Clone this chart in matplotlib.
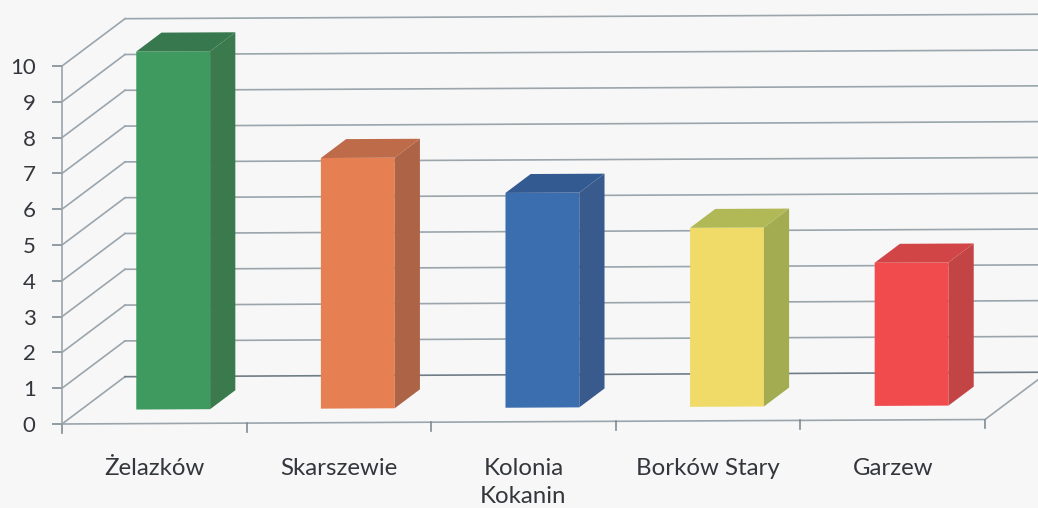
import matplotlib.pyplot as plt
from matplotlib.patches import Polygon
from matplotlib.transforms import Affine2D

# Wykres slupkowy 3D (rysowany recznie, jak w Excelu)

# Dane
places = ['Żelazków', 'Skarszewie', 'Kolonia\nKokanin', 'Borków Stary', 'Garzew']
values = [10, 7, 6, 5, 4]
y_ticks = list(range(11))

front_colors = ['#3f9a5f', '#e67f52', '#3a6eae', '#f0da68', '#f24b4e']
side_colors = ['#3a7a4d', '#ac6346', '#385a8c', '#a3ac50', '#c34445']
top_colors = ['#37784e', '#bd6b49', '#345a92', '#b1b956', '#d24546']

bg = '#f8f7f8'
grid = '#9aa5ac'
text_col = '#33363b'

# glebokosc wykresu (w jednostkach osi)
depth_x = 63 / 184.6
depth_y = 47 / 35.8
bar_width = 0.40
tilt = 4.5 / 35.8 / 5  # skan jest lekko przekrecony

plt.rcParams['font.family'] = ['Lato', 'DejaVu Sans']

fig = plt.figure(figsize=(10.38, 5.08), dpi=100, facecolor=bg)
ax = fig.add_axes([62 / 1038, 84 / 508, 923 / 1038, 358 / 508])
ax.patch.set_visible(False)
ax.set_xlim(0, len(places))
ax.set_ylim(0, 10)

tr = Affine2D.from_values(1, tilt, 0, 1, 0, 0) + ax.transData

# siatka: sciana boczna i tylna
for v in y_ticks:
    ax.plot([0, depth_x], [v, v + depth_y], color=grid, lw=1.2, transform=tr, clip_on=False, zorder=1)
    ax.plot([depth_x, 6], [v + depth_y, v + depth_y], color='#6f7d87' if v == 0 else grid, lw=1.2,
            transform=tr, clip_on=False, zorder=1)

# os x i podloga po prawej
ax.plot([0, 5, 5 + depth_x], [0, 0, depth_y], color=grid, lw=1.2, transform=tr, clip_on=False, zorder=1)
for i in range(len(places) + 1):
    ax.plot([i, i], [0, -0.24], color='#7f8b94', lw=1.2, transform=tr, clip_on=False, zorder=1)

# slupki
off_x = depth_x * 0.30
off_y = depth_y * 0.30
d_x = depth_x * 0.40
d_y = depth_y * 0.40
for i, v in enumerate(values):
    x0 = i + 0.5 - bar_width / 2 + off_x
    x1 = x0 + bar_width
    y0 = off_y
    y1 = off_y + v
    ax.add_patch(Polygon([(x0, y0), (x1, y0), (x1, y1), (x0, y1)], fc=front_colors[i], ec='none',
                         transform=tr, clip_on=False, zorder=3))
    ax.add_patch(Polygon([(x1, y0), (x1 + d_x, y0 + d_y), (x1 + d_x, y1 + d_y), (x1, y1)], fc=side_colors[i], ec='none',
                         transform=tr, clip_on=False, zorder=3))
    ax.add_patch(Polygon([(x0, y1), (x1, y1), (x1 + d_x, y1 + d_y), (x0 + d_x, y1 + d_y)], fc=top_colors[i], ec='none',
                         transform=tr, clip_on=False, zorder=3))

# osie
for s in ['top', 'right', 'bottom']:
    ax.spines[s].set_visible(False)
ax.spines['left'].set_color(grid)
ax.spines['left'].set_linewidth(1.2)

ax.set_yticks(y_ticks)
ax.tick_params(axis='y', length=7, width=1.2, color='#7f8b94', pad=12, labelsize=16, labelcolor=text_col)
ax.set_xticks([i + 0.5 for i in range(len(places))])
ax.set_xticklabels(places, linespacing=1.4)
ax.tick_params(axis='x', length=0, pad=24.5, labelsize=17.3, labelcolor=text_col)

fig.savefig('out.png', dpi=100, facecolor=bg)
